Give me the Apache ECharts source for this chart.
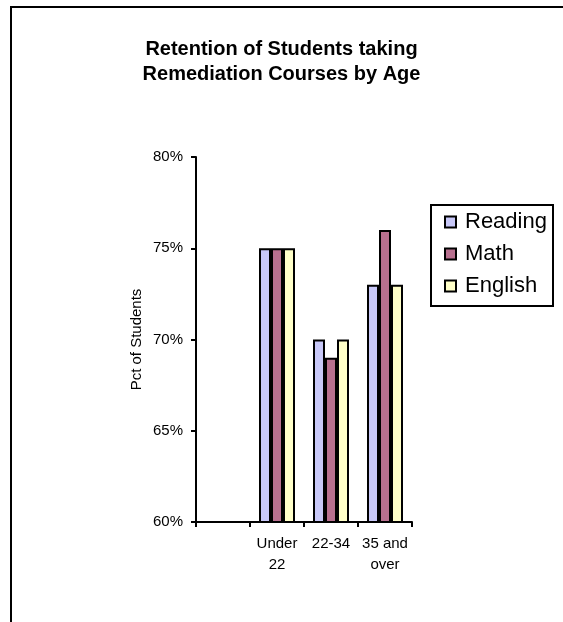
<!DOCTYPE html>
<html>
<head>
<meta charset="utf-8">
<script src="https://cdn.jsdelivr.net/npm/echarts@6/dist/echarts.min.js"></script>
<style>
html,body{margin:0;padding:0;background:#fff;}
#chart{width:563px;height:622px;}
</style>
</head>
<body>
<div id="chart"></div>
<script>
var categories = ['', 'Under\n22', '22-34', '35 and\nover'];
var reading = [null, 75, 70, 73];
var math = [null, 75, 69, 76];
var english = [null, 75, 70, 73];
var yTicks = [60, 65, 70, 75, 80];

var chart = echarts.init(document.getElementById('chart'), null, {renderer: 'canvas'});
var font = '"Liberation Sans", Arial, sans-serif';
function barSeries(name, data, color) {
  return {
    name: name,
    type: 'bar',
    data: data,
    barWidth: 12,
    barGap: '0%',
    itemStyle: {color: color, borderColor: '#000', borderWidth: 2},
    emphasis: {disabled: true}
  };
}
chart.setOption({
  animation: false,
  backgroundColor: '#fff',
  textStyle: {fontFamily: font},
  title: {
    text: 'Retention of Students taking\nRemediation Courses by Age',
    left: 'center',
    top: 32,
    textStyle: {fontFamily: font, fontSize: 20, fontWeight: 'bold', color: '#000', lineHeight: 25}
  },
  graphic: [{
    type: 'rect',
    shape: {x: 11, y: 7, width: 700, height: 800},
    style: {fill: 'none', stroke: '#000', lineWidth: 2},
    silent: true
  }, {
    type: 'rect',
    shape: {x: 431, y: 205, width: 122, height: 101},
    style: {fill: 'none', stroke: '#000', lineWidth: 2},
    silent: true
  }],
  legend: {
    orient: 'vertical',
    left: 444,
    top: 211,
    itemWidth: 11,
    itemHeight: 11,
    itemGap: 10,
    padding: 0,
    icon: 'rect',
    textStyle: {fontFamily: font, fontSize: 22, lineHeight: 21, color: '#000', padding: [0, 0, 0, 4]},
    itemStyle: {borderColor: '#000', borderWidth: 2},
    data: ['Reading', 'Math', 'English']
  },
  grid: {left: 196, top: 157, right: 151, bottom: 100, containLabel: false},
  xAxis: {
    type: 'category',
    data: categories,
    axisLine: {lineStyle: {color: '#000', width: 2}},
    axisTick: {show: true, length: 5, lineStyle: {color: '#000', width: 2}},
    axisLabel: {color: '#000', fontFamily: font, fontSize: 15, lineHeight: 21, margin: 11, interval: 0}
  },
  yAxis: {
    type: 'value',
    min: yTicks[0],
    max: yTicks[yTicks.length - 1],
    interval: 5,
    name: 'Pct of Students',
    nameLocation: 'middle',
    nameRotate: 90,
    nameGap: 52,
    nameTextStyle: {color: '#000', fontFamily: font, fontSize: 15},
    axisLine: {show: true, lineStyle: {color: '#000', width: 2}},
    axisTick: {show: true, length: 5, lineStyle: {color: '#000', width: 2}},
    splitLine: {show: false},
    axisLabel: {color: '#000', fontFamily: font, fontSize: 15, margin: 13, formatter: '{value}%'}
  },
  series: [
    barSeries('Reading', reading, '#c8c8f8'),
    barSeries('Math', math, '#b8708f'),
    barSeries('English', english, '#ffffc8')
  ]
});
</script>
</body>
</html>
